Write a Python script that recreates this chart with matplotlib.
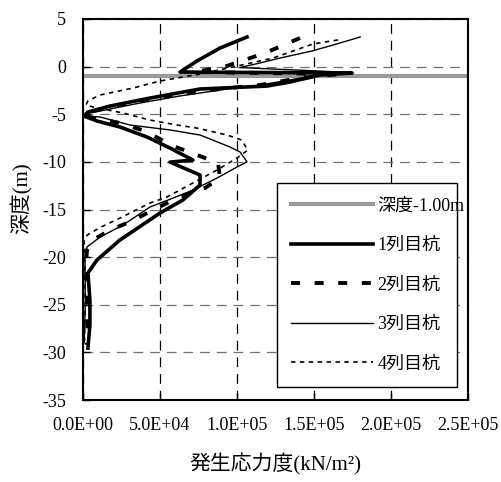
import matplotlib
matplotlib.use("Agg")
import matplotlib.pyplot as plt
from matplotlib.ticker import FuncFormatter, MultipleLocator

plt.rcParams["font.family"] = ["Liberation Serif", "Noto Sans CJK JP"]
plt.rcParams["lines.scale_dashes"] = False

# ============================================================
# データ（発生応力度 kN/m2, 深度 m）
# ============================================================
labels = ["深度-1.00m", "1列目杭", "2列目杭", "3列目杭", "4列目杭"]

ref_x = [0.0, 2.5e5]
ref_y = [-1.0, -1.0]

pile1_x = [1.065e5, 8.9e4, 7.4e4, 6.3e4, 1.747e5, 1.539e5, 1.344e5, 1.195e5, 7.6e4, 4.35e4,
           1.75e4, 3.2e3, 650, 9.1e3, 2.4e4, 4.16e4, 5.65e4, 7.14e4, 5.65e4, 7.6e4,
           7.6e4, 6.49e4, 5.0e4, 2.4e4, 9.1e3, 3.2e3, 4.5e3, 4.5e3, 3.2e3]
pile1_y = [3.11, 1.95, 0.59, -0.57, -0.67, -0.88, -1.62, -2.04, -2.35, -3.3,
           -4.14, -4.77, -5.19, -5.71, -6.34, -7.39, -8.55, -9.81, -10.02, -11.38,
           -12.43, -14.0, -15.37, -18.2, -20.3, -21.67, -24.5, -27.1, -29.55]

pile2_x = [1.409e5, 1.182e5, 9.35e4, 7.27e4, 1.669e5, 1.409e5, 1.149e5, 8.25e4, 4.35e4, 1.75e4,
           4.5e3, 650, 1.1e4, 2.4e4, 4.03e4, 5.85e4, 7.08e4, 8.77e4, 8.9e4, 7.92e4,
           6.1e4, 4.55e4, 3.05e4, 1.75e4, 6.5e3, 2.6e3, 1.9e3, 3.2e3, 2.6e3]
pile2_y = [3.0, 1.43, 0.07, -0.57, -0.78, -1.2, -1.93, -2.46, -3.4, -4.24,
           -4.77, -5.19, -5.5, -5.92, -6.76, -8.34, -9.07, -10.12, -11.7, -12.75,
           -13.8, -15.06, -16.3, -17.16, -18.2, -19.26, -20.8, -24.5, -29.2]

pile3_x = [1.8e5, 1.669e5, 1.487e5, 1.279e5, 1.149e5, 1.02e5, 1.72e5, 1.539e5, 1.15e5, 8.9e4,
           6.3e4, 3.7e4, 1.75e4, 4.5e3, 650, 1.1e4, 3.05e4, 5.65e4, 7.6e4, 9.55e4,
           1.02e5, 1.065e5, 1.0e5, 8.7e4, 7.14e4, 5.85e4, 4.35e4, 2.6e4, 1.1e4, 2.6e3,
           1.3e3, 1.5e3, 800]
pile3_y = [3.11, 2.48, 1.64, 0.9, 0.38, -0.1, -0.6, -0.85, -1.93, -2.46,
           -3.08, -3.82, -4.45, -4.87, -5.19, -5.29, -6.13, -6.65, -7.18, -8.44,
           -8.97, -10.0, -10.54, -11.7, -12.96, -13.8, -14.74, -16.63, -17.9, -18.94,
           -19.78, -25.0, -29.0]

pile4_x = [1.656e5, 1.494e5, 1.234e5, 9.74e4, 7.6e4, 5.0e4, 3.25e4, 1.1e4, 3.2e3, 1.9e3,
           6.5e3, 2.6e4, 4.35e4, 6.1e4, 7.4e4, 9.35e4, 1.03e5, 1.07e5, 1.0e5, 8.7e4,
           7.14e4, 5.45e4, 4.35e4, 2.4e4, 1.1e4, 2.6e3, 650, 1.5e3, 1.0e3]
pile4_y = [2.8, 2.38, 0.9, -0.04, -0.78, -1.51, -2.25, -2.98, -3.61, -4.03,
           -4.24, -4.87, -5.61, -6.13, -6.45, -7.18, -7.7, -8.76, -9.6, -10.86,
           -12.22, -13.69, -14.32, -15.9, -16.9, -17.7, -18.2, -24.0, -28.8]

# ============================================================
# 描画
# ============================================================
fig = plt.figure(figsize=(5.02, 4.82), dpi=100)
ax = fig.add_axes([0.1653, 0.1701, 0.7670, 0.7905])

ax.plot(ref_x, ref_y, color="#9a9a9a", lw=3.0, label=labels[0], zorder=2)
ax.plot(pile1_x, pile1_y, color="black", lw=2.6, label=labels[1], zorder=3)
ax.plot(pile2_x, pile2_y, color="black", lw=2.8, dashes=(6.5, 10.5), label=labels[2], zorder=3)
ax.plot(pile3_x, pile3_y, color="black", lw=1.0, label=labels[3], zorder=3)
ax.plot(pile4_x, pile4_y, color="black", lw=1.2, dashes=(3.2, 3.2), label=labels[4], zorder=3)

ax.set_xlim(0, 2.5e5)
ax.set_ylim(-35, 5)
ax.xaxis.set_major_locator(MultipleLocator(5e4))
ax.yaxis.set_major_locator(MultipleLocator(5))
ax.xaxis.set_major_formatter(FuncFormatter(lambda v, p: f"{v:.1E}"))
ax.yaxis.set_major_formatter(FuncFormatter(lambda v, p: f"{v:.0f}"))

ax.tick_params(axis="both", direction="in", length=5, width=1, labelsize=13, pad=12)
ax.xaxis.grid(True, color="black", ls=(0, (7, 5)), lw=0.9)
ax.yaxis.grid(True, color="#707070", ls=(0, (7, 5)), lw=0.9)
for s in ax.spines.values():
    s.set_linewidth(1.5)

ax.set_xlabel("発生応力度(kN/m²)", fontsize=15, labelpad=14)
ax.set_ylabel("深度(m)", fontsize=15)
ax.yaxis.set_label_coords(-0.13, 0.53)

leg = ax.legend(loc="lower left", bbox_to_anchor=(0.504, 0.034, 0.467, 0.543), mode="expand",
                fontsize=13, handlelength=4.5, labelspacing=1.25, borderpad=0.8,
                handletextpad=0.25, fancybox=False, framealpha=1.0, edgecolor="black",
                borderaxespad=0)
leg.get_frame().set_linewidth(1.0)

fig.savefig("out.png", dpi=100, facecolor="white")
